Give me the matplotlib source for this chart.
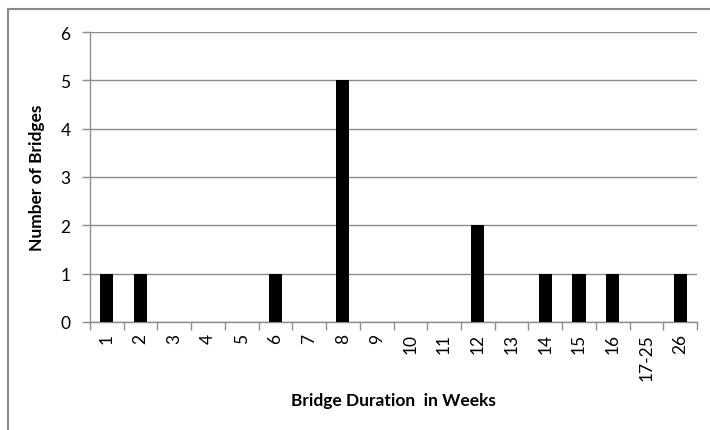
import matplotlib.pyplot as plt
from matplotlib.lines import Line2D

# bridge durations (weeks) and counts
weeks = ['1', '2', '3', '4', '5', '6', '7', '8', '9', '10', '11', '12',
         '13', '14', '15', '16', '17-25', '26']
bridges = [1, 1, 0, 0, 0, 1, 0, 5, 0, 0, 0, 2, 0, 1, 1, 1, 0, 1]

plt.rcParams['font.family'] = ['Lato', 'DejaVu Sans']

fig = plt.figure(figsize=(7.1, 4.31), dpi=100)
ax = fig.add_axes([90 / 710, 108 / 431, 607 / 710, 290 / 431])

x = list(range(len(weeks)))
ax.bar(x, bridges, width=0.39, color='black', zorder=3)

ax.set_xlim(-0.5, len(weeks) - 0.5)
ax.set_ylim(0, 6)
ax.set_yticks(range(7))
ax.yaxis.grid(True, color='#8c8c8c', linewidth=1)
ax.set_axisbelow(True)

ax.set_xticks(x)
ax.set_xticklabels(weeks, rotation=90, fontsize=12.5)
ax.tick_params(axis='x', length=0, pad=8)
ax.set_xticks([i - 0.5 for i in range(len(weeks) + 1)], minor=True)
ax.tick_params(axis='x', which='minor', length=6, color='#8c8c8c', width=1)
ax.tick_params(axis='y', length=6, color='#8c8c8c', width=1, labelsize=12.5, pad=8)

for s in ['top', 'right']:
    ax.spines[s].set_visible(False)
for s in ['left', 'bottom']:
    ax.spines[s].set_color('#8c8c8c')
    ax.spines[s].set_linewidth(1)

ax.set_xlabel('Bridge Duration  in Weeks', fontsize=12.5, fontweight='bold', labelpad=9)
ax.set_ylabel('Number of Bridges', fontsize=12.5, fontweight='bold', labelpad=11)

# chart frame (left and top edges visible)
fig.add_artist(Line2D([8 / 710, 8 / 710], [0, 1 - 10 / 431], transform=fig.transFigure,
                      color='#888888', linewidth=1.5))
fig.add_artist(Line2D([8 / 710, 1], [1 - 10 / 431, 1 - 10 / 431], transform=fig.transFigure,
                      color='#888888', linewidth=1.5))

plt.savefig('out.png', dpi=100)
